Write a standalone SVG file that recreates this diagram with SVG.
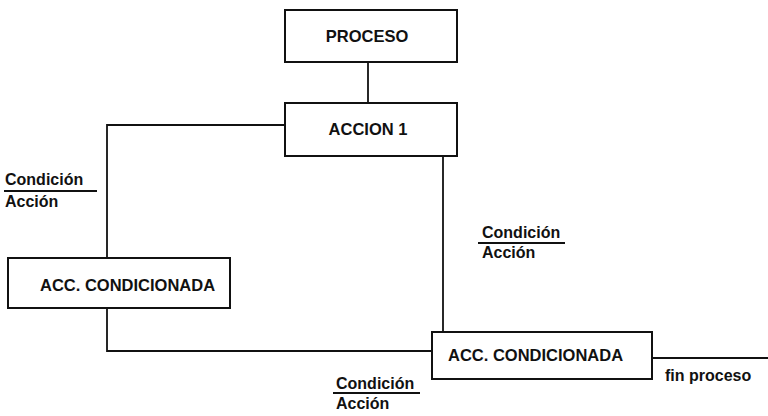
<svg xmlns="http://www.w3.org/2000/svg" width="768" height="416" viewBox="0 0 768 416">
  <style>
    .box { fill: #ffffff; stroke: #111111; stroke-width: 2; }
    .wire { fill: none; stroke: #111111; stroke-width: 1.8; }
    .t { font-family: "Liberation Sans", Arial, sans-serif; font-weight: bold; font-size: 16.5px; fill: #111111; }
    .lbl { font-family: "Liberation Sans", Arial, sans-serif; font-weight: bold; font-size: 16px; fill: #111111; }
  </style>
  <rect width="768" height="416" fill="#ffffff"/>

  <!-- connectors -->
  <g id="connectors">
    <path class="wire" d="M368,62 V103"/>
    <path class="wire" d="M285,125 H107 V258"/>
    <path class="wire" d="M107,308 V351 H432"/>
    <path class="wire" d="M443,156 V332"/>
    <path class="wire" d="M652,358 H768"/>
  </g>

  <!-- transition labels -->
  <g id="label-left">
    <text class="lbl" x="5" y="185">Condición</text>
    <path class="wire" d="M4,191 H97"/>
    <text class="lbl" x="5" y="207">Acción</text>
  </g>
  <g id="label-right">
    <text class="lbl" x="482" y="238">Condición</text>
    <path class="wire" d="M478,243 H565"/>
    <text class="lbl" x="482" y="258">Acción</text>
  </g>
  <g id="label-bottom">
    <text class="lbl" x="336" y="389">Condición</text>
    <path class="wire" d="M333,393 H420"/>
    <text class="lbl" x="336" y="409">Acción</text>
  </g>

  <!-- nodes -->
  <g id="proceso">
    <rect class="box" x="285" y="10" width="172" height="52"/>
    <text class="t" x="367" y="42" text-anchor="middle">PROCESO</text>
  </g>
  <g id="accion1">
    <rect class="box" x="285" y="103" width="172" height="53"/>
    <text class="t" x="368" y="135" text-anchor="middle">ACCION 1</text>
  </g>
  <g id="acc-condicionada-1">
    <rect class="box" x="8" y="258" width="222" height="50"/>
    <text class="t" x="40" y="291">ACC. CONDICIONADA</text>
  </g>
  <g id="acc-condicionada-2">
    <rect class="box" x="432" y="332" width="220" height="47"/>
    <text class="t" x="448" y="361">ACC. CONDICIONADA</text>
  </g>
  <g id="fin">
    <text class="lbl" x="665" y="381">fin proceso</text>
  </g>
</svg>
